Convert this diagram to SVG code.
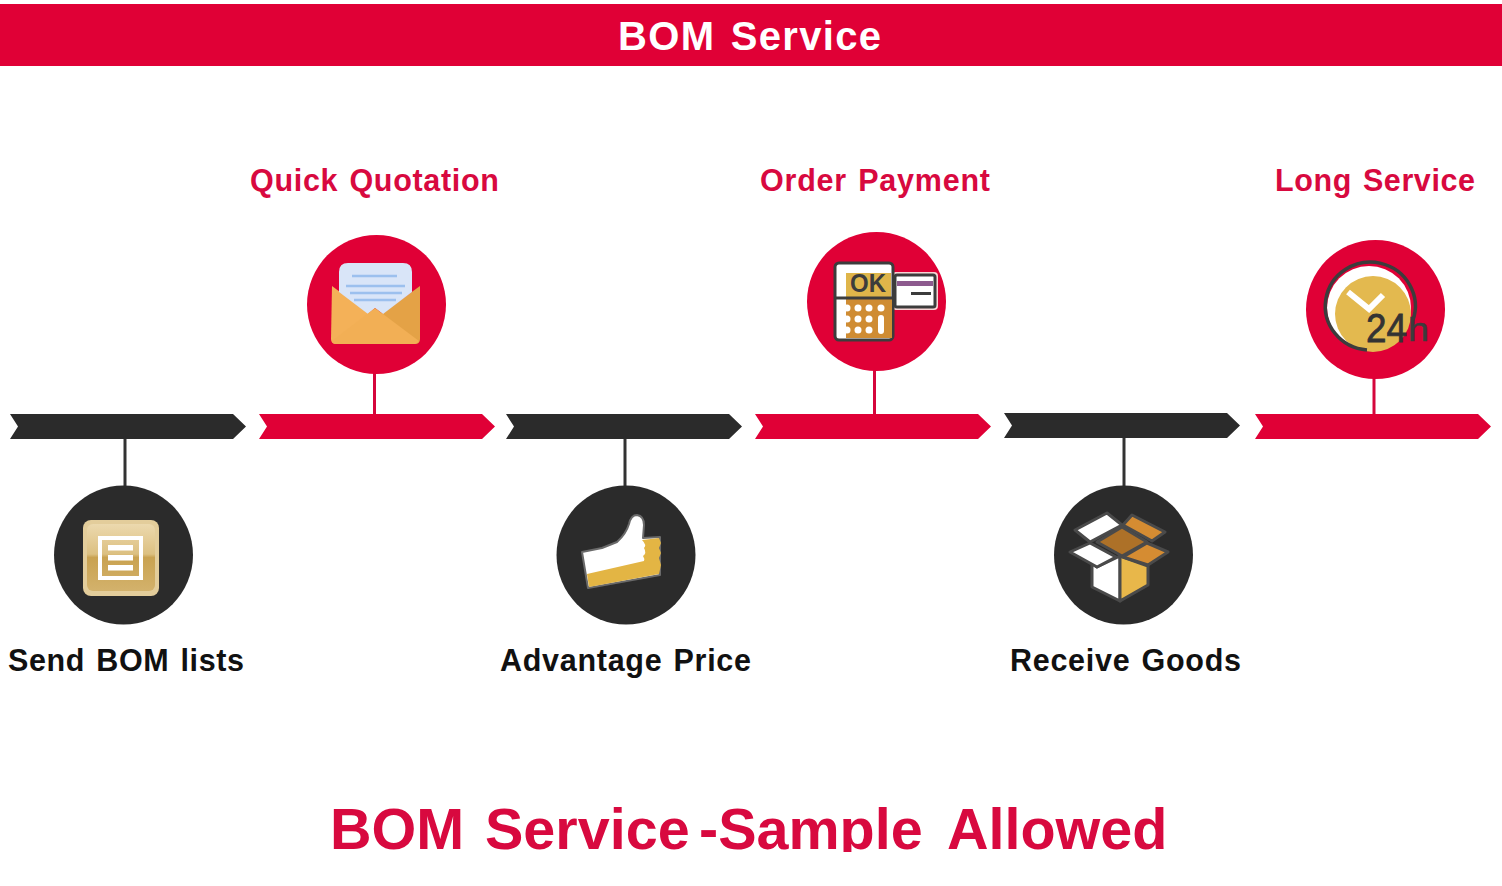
<svg xmlns="http://www.w3.org/2000/svg" width="1502" height="886" viewBox="0 0 1502 886">
<style>
text{font-family:"Liberation Sans",Arial,sans-serif;font-weight:700}
.r{fill:#e00036}.k{fill:#2b2b2b}
.t{font-size:30.500px;word-spacing:2px}
.rl{stroke:#d5063c;stroke-width:3;fill:none}.kl{stroke:#333;stroke-width:3;fill:none}
.o{stroke:#4a4a4a;stroke-width:3;stroke-linejoin:round}
</style>
<defs>
<path id="bar" d="M0 0H223L236 12.500L223 25H0L8 12.500Z"/>
<linearGradient id="doc" x1="0" y1="0" x2="0" y2="1"><stop offset="0" stop-color="#ecd9ae"/><stop offset="0.45" stop-color="#dcc081"/><stop offset="0.5" stop-color="#c9a251"/><stop offset="1" stop-color="#d3b26c"/></linearGradient>
<clipPath id="foot"><rect x="300" y="790" width="900" height="62"/></clipPath>
</defs>
<rect id="banner" x="0" y="4" width="1502" height="62" class="r"/>
<text id="title" x="618" y="50" font-size="40" fill="#fff" textLength="263" lengthAdjust="spacing" word-spacing="3">BOM Service</text>
<g id="connectors">
<line class="kl" x1="125" y1="438" x2="125" y2="488"/>
<line class="rl" x1="374.500" y1="372" x2="374.500" y2="415"/>
<line class="kl" x1="625" y1="438" x2="625" y2="488"/>
<line class="rl" x1="874.500" y1="369" x2="874.500" y2="414"/>
<line class="kl" x1="1124" y1="437" x2="1124" y2="488"/>
<line class="rl" x1="1374" y1="377" x2="1374" y2="414"/>
</g>
<g id="step1">
<use href="#bar" x="10" y="414" class="k"/>
<circle cx="123.500" cy="555" r="69.500" class="k"/>
<rect x="83" y="520" width="76" height="76" rx="8" fill="#e3cd9b"/>
<rect x="87" y="524" width="68" height="67" rx="6" fill="url(#doc)"/>
<rect x="100" y="538" width="41" height="40" fill="none" stroke="#fff" stroke-width="4"/>
<rect x="108" y="545" width="25" height="5.500" fill="#fff"/><rect x="108" y="555" width="25" height="5.500" fill="#fff"/><rect x="108" y="565" width="25" height="5.500" fill="#fff"/>
<text class="t" x="8" y="671" fill="#111" textLength="236" lengthAdjust="spacing">Send BOM lists</text>
</g>
<g id="step2">
<use href="#bar" x="259" y="414" class="r"/>
<circle cx="376.500" cy="304.500" r="69.500" class="r"/>
<path d="M332 286L368 313L376 319V344H336Q331 344 331 339Z" fill="#f4b158"/>
<path d="M420 286L383 313L375 319V344H415Q420 344 420 339Z" fill="#e4a246"/>
<path d="M339 272Q339 263 348 263H403Q412 263 412 272V292L383 314L375 308L368 314L339 292Z" fill="#d9e5f8"/>
<path d="M352 276H397M346 286H405M350 293H402M354 300H396" stroke="#9cc0ee" stroke-width="2.500" fill="none"/>
<path d="M332 341L375 308L419 341Q417 344 415 344H336Q333 344 332 341Z" fill="#f2af55"/>
<text class="t" x="250" y="191" fill="#d8093f" textLength="249" lengthAdjust="spacing">Quick Quotation</text>
</g>
<g id="step3">
<use href="#bar" x="506" y="414" class="k"/>
<circle cx="626" cy="555" r="69.500" class="k"/>
<path d="M582 552L602 548L617 542Q626 534 629 524Q631 515 637 515Q644 516 644 525L643 538L660 537L660 575L588 588Z" fill="#fff" stroke="#6a6a6a" stroke-width="2" stroke-linejoin="round"/>
<path d="M587 574L644 561Q645 559 643 556Q647 553 644 548Q647 545 642 540L659 538L661 543L659 548L661 553L659 558L661 565L659 574L589 587Z" fill="#e3b544"/>
<text class="t" x="500" y="671" fill="#111" textLength="251" lengthAdjust="spacing">Advantage Price</text>
</g>
<g id="step4">
<use href="#bar" x="755" y="414" class="r"/>
<circle cx="876.500" cy="301.500" r="69.500" class="r"/>
<rect x="893" y="273" width="44" height="36" rx="3" fill="#fff" stroke="#f8d5d5" stroke-width="2"/>
<rect x="895" y="275" width="40" height="32" rx="2" fill="#fff" stroke="#3c3c3c" stroke-width="3"/>
<rect x="897" y="281" width="36" height="5" fill="#8d5a8e"/>
<rect x="911" y="292" width="20" height="3" fill="#3c3c3c"/>
<rect x="835" y="263" width="58" height="77" rx="4" fill="#fff" stroke="#3c3c3c" stroke-width="3"/>
<rect x="846" y="273" width="45" height="24" fill="#dfb54a"/>
<path d="M846 299H892V338H846Z" fill="#cf8c33"/>
<line x1="835" y1="298" x2="893" y2="298" stroke="#3c3c3c" stroke-width="3"/>
<text x="850" y="292" font-size="25" fill="#3c3c3c" textLength="36" lengthAdjust="spacingAndGlyphs">OK</text>
<g fill="#fff"><circle cx="847" cy="308" r="3.500"/><circle cx="858" cy="308" r="3.500"/><circle cx="869" cy="308" r="3.500"/><circle cx="881" cy="308" r="3.500"/><circle cx="847" cy="319" r="3.500"/><circle cx="858" cy="319" r="3.500"/><circle cx="869" cy="319" r="3.500"/><circle cx="847" cy="330" r="3.500"/><circle cx="858" cy="330" r="3.500"/><circle cx="869" cy="330" r="3.500"/><rect x="878" y="315" width="6" height="19" rx="3"/></g>
<text class="t" x="760" y="191" fill="#d8093f" textLength="230" lengthAdjust="spacing">Order Payment</text>
</g>
<g id="step5">
<use href="#bar" x="1004" y="413" class="k"/>
<circle cx="1123.500" cy="555" r="69.500" class="k"/>
<g class="o">
<path d="M1075 530L1107 513L1122 525L1090 542Z" fill="#fff"/>
<path d="M1123 525L1132 515L1165 532L1152 541Z" fill="#d58c32"/>
<path d="M1097 542L1122 527L1147 542L1122 556Z" fill="#ad7128"/>
<path d="M1092 563L1097 567L1120 556V601L1092 587Z" fill="#fff"/>
<path d="M1120 556L1148 566V585L1120 601Z" fill="#e8b74a"/>
<path d="M1070 552L1090 543L1116 557L1097 567Z" fill="#fff"/>
<path d="M1123 557L1147 543L1168 552L1148 565Z" fill="#d58c32"/>
</g>
<text class="t" x="1010" y="671" fill="#111" textLength="231" lengthAdjust="spacing">Receive Goods</text>
</g>
<g id="step6">
<use href="#bar" x="1255" y="414" class="r"/>
<circle cx="1375.500" cy="309.500" r="69.500" class="r"/>
<circle cx="1369" cy="308" r="42" fill="#fff"/>
<circle cx="1373" cy="314" r="38" fill="#e3b94f"/>
<path d="M1367 350A45 44 0 1 1 1413 320" fill="none" stroke="#3c3c3c" stroke-width="3.500"/>
<path d="M1348 292L1369 309L1383 295" fill="none" stroke="#fff" stroke-width="6"/>
<text x="1366" y="342" font-size="40" fill="#333" textLength="41" lengthAdjust="spacingAndGlyphs" style="font-weight:400;stroke:#333;stroke-width:.8">24</text>
<text x="1408" y="341" font-size="33" fill="#3c3c3c" textLength="21" lengthAdjust="spacingAndGlyphs" style="font-weight:400;stroke:#3c3c3c;stroke-width:.5">h</text>
<text class="t" x="1275" y="191" fill="#d8093f" textLength="200" lengthAdjust="spacing">Long Service</text>
</g>
<text id="footer" y="849" font-size="57.500" fill="#d8093f" clip-path="url(#foot)"><tspan x="330">BOM </tspan><tspan x="485">Service</tspan><tspan x="699">-Sample </tspan><tspan x="947">Allowed</tspan></text>
</svg>
